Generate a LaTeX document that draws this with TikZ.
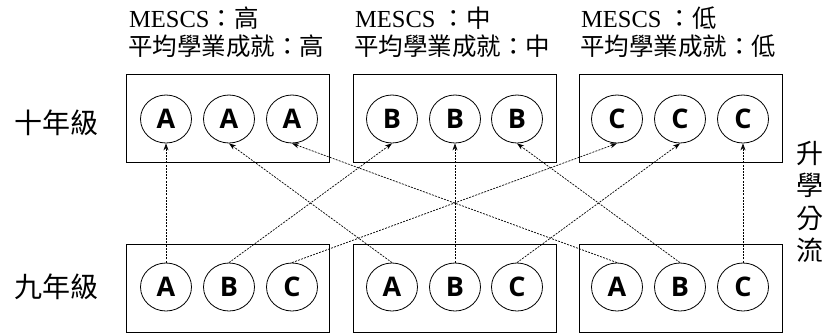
\documentclass[tikz,border=0pt]{standalone}
\usepackage{fontspec}
\setmainfont{Liberation Serif}
\newfontfamily\cjk{Noto Sans CJK TC}
\newfontfamily\letterfont{Open Sans}
\usetikzlibrary{arrows.meta,shapes.geometric}
\tikzset{
  grpbox/.style={draw, line width=0.9pt, minimum width=203pt, minimum height=88pt, inner sep=0pt},
  ball/.style={ellipse, draw, line width=0.8pt, minimum width=51pt, minimum height=48pt, inner sep=0pt,
    font=\letterfont\bfseries\fontsize{27}{27}\selectfont},
  title/.style={anchor=base west, inner sep=0pt, font=\fontsize{24.5}{24.5}\selectfont},
  cjktitle/.style={anchor=base west, inner sep=0pt, font=\cjk\fontsize{24.5}{24.5}\selectfont},
  rowlab/.style={inner sep=0pt, font=\cjk\fontsize{28}{28}\selectfont},
  flow/.style={line width=0.7pt, dash pattern=on 2pt off 1.2pt, -{Stealth[length=7pt,width=5pt]}}
}
\begin{document}
\begin{tikzpicture}[x=1pt,y=-1pt]
\useasboundingbox (0,0) rectangle (825,333);
% titles
\node[title] (h1a) at (129,27) {MESCS{\cjk\fontsize{24.5}{24.5}\selectfont ：高}};
\node[cjktitle] (h1b) at (128,55) {平均學業成就：高};
\node[title] (h2a) at (355,27) {MESCS {\cjk\fontsize{24.5}{24.5}\selectfont ：中}};
\node[cjktitle] (h2b) at (354,55) {平均學業成就：中};
\node[title] (h3a) at (581,27) {MESCS {\cjk\fontsize{24.5}{24.5}\selectfont ：低}};
\node[cjktitle] (h3b) at (580,55) {平均學業成就：低};
% row labels
\node[rowlab, anchor=east] (g10) at (99,123) {十年級};
\node[rowlab, anchor=east] (g9) at (99,287) {九年級};
\node[inner sep=0pt, align=center, font=\cjk\fontsize{27}{32.5}\selectfont] (side) at (810,202) {升\\學\\分\\流};
% boxes
\node[grpbox] (T1) at (227.5,118) {};
\node[grpbox] (T2) at (454.5,118) {};
\node[grpbox] (T3) at (680.5,118) {};
\node[grpbox] (B1) at (227.5,288) {};
\node[grpbox] (B2) at (454.5,288) {};
\node[grpbox] (B3) at (680.5,288) {};
% top circles
\node[ball] (ta1) at (166,119) {A};
\node[ball] (ta2) at (229,119) {A};
\node[ball] (ta3) at (292,119) {A};
\node[ball] (tb1) at (392,119) {B};
\node[ball] (tb2) at (455,119) {B};
\node[ball] (tb3) at (517,119) {B};
\node[ball] (tc1) at (617,119) {C};
\node[ball] (tc2) at (680,119) {C};
\node[ball] (tc3) at (743,119) {C};
% bottom circles
\node[ball] (ba1) at (166,287) {A};
\node[ball] (bb1) at (229,287) {B};
\node[ball] (bc1) at (292,287) {C};
\node[ball] (ba2) at (392,287) {A};
\node[ball] (bb2) at (455,287) {B};
\node[ball] (bc2) at (517,287) {C};
\node[ball] (ba3) at (617,287) {A};
\node[ball] (bb3) at (680,287) {B};
\node[ball] (bc3) at (743,287) {C};
% flows
\draw[flow] (ba1.north) -- (ta1.south);
\draw[flow] (bb1.north) -- (tb1.south);
\draw[flow] (bc1.north) -- (tc1.south);
\draw[flow] (ba2.north) -- (ta2.south);
\draw[flow] (bb2.north) -- (tb2.south);
\draw[flow] (bc2.north) -- (tc2.south);
\draw[flow] (ba3.north) -- (ta3.south);
\draw[flow] (bb3.north) -- (tb3.south);
\draw[flow] (bc3.north) -- (tc3.south);
\end{tikzpicture}
\end{document}
